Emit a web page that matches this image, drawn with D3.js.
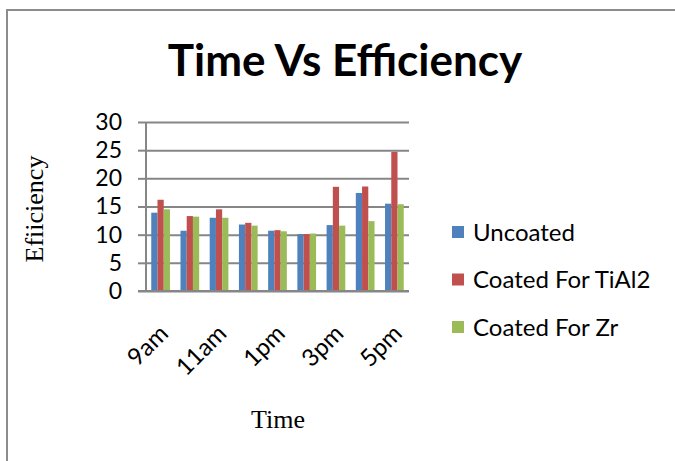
<!DOCTYPE html>
<html>
<head>
<meta charset="utf-8">
<script src="https://cdn.jsdelivr.net/npm/d3@7"></script>
<style>
  html, body { margin: 0; padding: 0; background: #fff; }
  svg { display: block; }
</style>
</head>
<body>
<svg id="chart" width="675" height="461"></svg>
<script>
// Hourly efficiency readings for the three tool conditions
const categories = ["9am", "10am", "11am", "12pm", "1pm", "2pm", "3pm", "4pm", "5pm"];
const labelledCategories = ["9am", "11am", "1pm", "3pm", "5pm"];
const seriesNames = ["Uncoated", "Coated For TiAl2", "Coated For Zr"];
const uncoated = [13.9, 10.7, 13.0, 11.8, 10.7, 10.1, 11.7, 17.4, 15.5];
const coatedTiAl2 = [16.2, 13.3, 14.5, 12.1, 10.8, 10.1, 18.5, 18.55, 24.7];
const coatedZr = [14.5, 13.2, 13.0, 11.6, 10.6, 10.2, 11.6, 12.4, 15.4];
const yTicks = [0, 5, 10, 15, 20, 25, 30];
const seriesColors = ["#4F81BD", "#C0504D", "#9BBB59"];

const seriesValues = [uncoated, coatedTiAl2, coatedZr];
const rows = categories.map((c, i) => ({
  cat: c,
  values: seriesNames.map((s, k) => ({ series: s, value: seriesValues[k][i] }))
}));

const svg = d3.select("#chart");
const sans = "Lato, 'Open Sans', sans-serif";
const serif = "'Liberation Serif', 'DejaVu Serif', serif";
const gridColor = "#868686";

// Outer chart frame (runs off the right and bottom edges)
svg.append("rect")
  .attr("x", 7).attr("y", 10)
  .attr("width", 720).attr("height", 520)
  .attr("fill", "none")
  .attr("stroke", "#8c8c8c")
  .attr("stroke-width", 2);

const plot = { left: 146, right: 409, top: 122, bottom: 291 };

const x = d3.scaleBand()
  .domain(categories)
  .range([plot.left, plot.right])
  .paddingInner(0.36)
  .paddingOuter(0.18);

const xSub = d3.scaleBand()
  .domain(seriesNames)
  .range([0, x.bandwidth()]);

const y = d3.scaleLinear()
  .domain([0, 30])
  .range([plot.bottom, plot.top]);

// Horizontal gridlines
svg.append("g")
  .attr("transform", `translate(${plot.left},0)`)
  .call(d3.axisLeft(y).tickValues(yTicks).tickSize(-(plot.right - plot.left)).tickFormat(""))
  .call(g => g.select(".domain").remove())
  .call(g => g.selectAll(".tick line").attr("stroke", gridColor).attr("stroke-width", 2));

// Bars
const groups = svg.append("g").selectAll("g")
  .data(rows)
  .join("g")
  .attr("transform", d => `translate(${x(d.cat)},0)`);

groups.selectAll("rect")
  .data(d => d.values)
  .join("rect")
  .attr("x", d => xSub(d.series))
  .attr("width", xSub.bandwidth())
  .attr("y", d => y(d.value))
  .attr("height", d => y(0) - y(d.value))
  .attr("fill", (d, i) => seriesColors[i]);

// Y axis with outer ticks and labels
const yAxis = svg.append("g")
  .attr("transform", `translate(${plot.left},0)`)
  .call(d3.axisLeft(y).tickValues(yTicks).tickSize(8).tickPadding(16).tickSizeOuter(0));
yAxis.select(".domain").attr("stroke", gridColor).attr("stroke-width", 2)
  .attr("d", `M0,${plot.top}V${plot.bottom}`);
yAxis.selectAll(".tick line").attr("stroke", gridColor).attr("stroke-width", 2);
yAxis.selectAll(".tick text")
  .attr("fill", "#000")
  .style("font-family", sans)
  .style("font-size", "23px");

// X axis baseline
svg.append("line")
  .attr("x1", plot.left - 8).attr("x2", plot.right)
  .attr("y1", y(0)).attr("y2", y(0))
  .attr("stroke", gridColor).attr("stroke-width", 2);

// Category labels, every other hour, slanted
const xAxis = svg.append("g")
  .attr("transform", `translate(0,${plot.bottom})`)
  .call(d3.axisBottom(x).tickValues(labelledCategories).tickSize(0));
xAxis.select(".domain").remove();
xAxis.selectAll(".tick text")
  .attr("fill", "#000")
  .style("font-family", sans)
  .style("font-size", "24px")
  .attr("text-anchor", "end")
  .attr("y", 0).attr("dy", 0)
  .attr("transform", "translate(9,44) rotate(-45)");

// Title
svg.append("text")
  .attr("x", 345).attr("y", 76)
  .attr("text-anchor", "middle")
  .style("font-family", sans)
  .style("font-weight", "bold")
  .style("font-size", "44px")
  .text("Time Vs Efficiency");

// Axis titles
svg.append("text")
  .attr("x", 278).attr("y", 428)
  .attr("text-anchor", "middle")
  .style("font-family", serif)
  .style("font-size", "26px")
  .text("Time");

svg.append("text")
  .attr("transform", "translate(43,209) rotate(-90)")
  .attr("text-anchor", "middle")
  .style("font-family", serif)
  .style("font-size", "26px")
  .text("Efiiciency");

// Legend
const legend = svg.append("g").selectAll("g")
  .data(seriesNames)
  .join("g")
  .attr("transform", (d, i) => `translate(452,${232 + i * 47.5})`);

legend.append("rect")
  .attr("x", 0).attr("y", -6)
  .attr("width", 12).attr("height", 12)
  .attr("fill", (d, i) => seriesColors[i]);

legend.append("text")
  .attr("x", 21).attr("y", 0)
  .attr("dy", "0.36em")
  .style("font-family", sans)
  .style("font-size", "24px")
  .text(d => d);
</script>
</body>
</html>
